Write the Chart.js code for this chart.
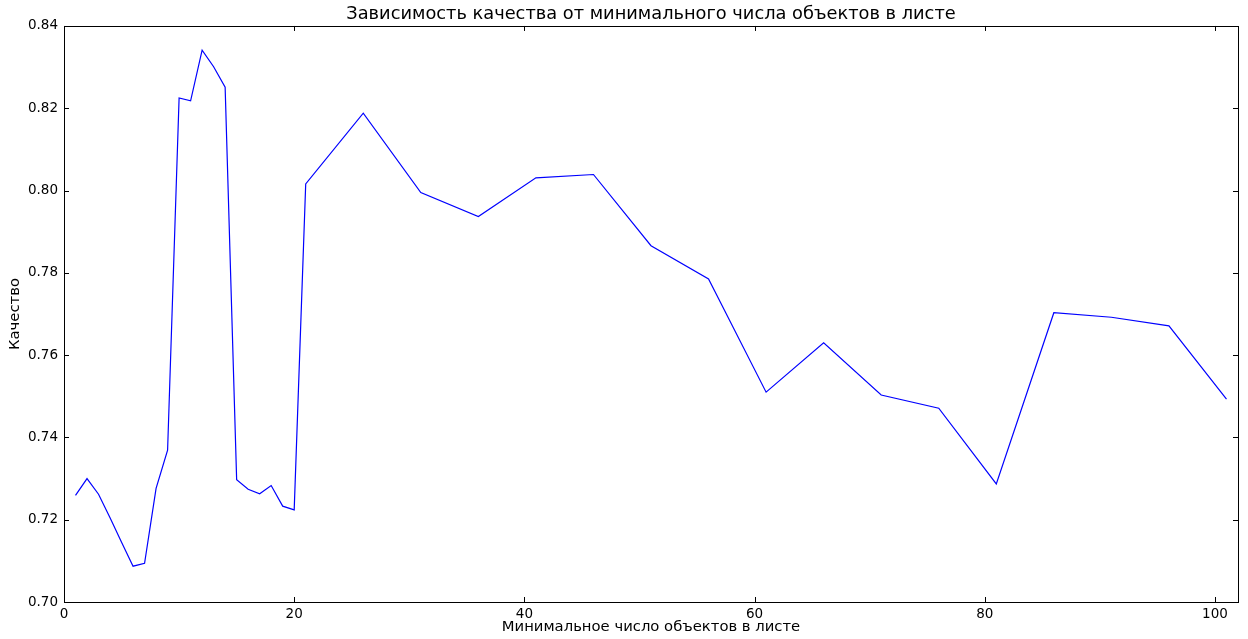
<!DOCTYPE html>
<html>
<head>
<meta charset="utf-8">
<script src="https://cdn.jsdelivr.net/npm/chart.js@4/dist/chart.umd.min.js"></script>
<style>
  html, body { margin: 0; padding: 0; background: #fff; }
</style>
</head>
<body>
<canvas id="chart" width="1248" height="639"></canvas>
<script>
// min samples per leaf vs. quality
const minLeafSizes = [1, 2, 3, 4, 5, 6, 7, 8, 9, 10, 11, 12, 13, 14, 15, 16, 17, 18, 19, 20,
  21, 26, 31, 36, 41, 46, 51, 56, 61, 66, 71, 76, 81, 86, 91, 96, 101];
const quality = [0.7259, 0.7300, 0.7262, 0.7205, 0.7145, 0.7087, 0.7094, 0.7276, 0.7369, 0.8225,
  0.8218, 0.8341, 0.8301, 0.8251, 0.7297, 0.7274, 0.7263, 0.7283, 0.7233, 0.7224,
  0.8016, 0.8188, 0.7995, 0.7937, 0.8031, 0.8039, 0.7866, 0.7785, 0.7510, 0.7630,
  0.7503, 0.7471, 0.7287, 0.7703, 0.7692, 0.7671, 0.7493];
const xTicks = [0, 20, 40, 60, 80, 100];
const yTicks = [0.70, 0.72, 0.74, 0.76, 0.78, 0.80, 0.82, 0.84];

const FONT = 'DejaVu Sans';

// matplotlib-style frame with inward ticks on all four sides
const frameTicks = {
  id: 'frameTicks',
  afterDatasetsDraw(chart) {
    const { ctx, chartArea: a, scales: { x, y } } = chart;
    const len = 5;
    ctx.save();
    ctx.strokeStyle = '#000';
    ctx.lineWidth = 1;
    ctx.beginPath();
    x.ticks.forEach(t => {
      const px = Math.round(x.getPixelForValue(t.value)) + 0.5;
      ctx.moveTo(px, a.bottom); ctx.lineTo(px, a.bottom - len);
      ctx.moveTo(px, a.top); ctx.lineTo(px, a.top + len);
    });
    y.ticks.forEach(t => {
      const py = Math.round(y.getPixelForValue(t.value)) + 0.5;
      ctx.moveTo(a.left, py); ctx.lineTo(a.left + len, py);
      ctx.moveTo(a.right, py); ctx.lineTo(a.right - len, py);
    });
    ctx.stroke();
    ctx.strokeRect(Math.round(a.left) + 0.5, Math.round(a.top) + 0.5,
      Math.round(a.right - a.left), Math.round(a.bottom - a.top));
    ctx.restore();
  }
};

new Chart(document.getElementById('chart'), {
  type: 'line',
  data: {
    datasets: [{
      data: minLeafSizes.map((v, i) => ({ x: v, y: quality[i] })),
      borderColor: '#0000ff',
      borderWidth: 1.2,
      pointRadius: 0,
      tension: 0,
      fill: false
    }]
  },
  options: {
    responsive: false,
    animation: false,
    devicePixelRatio: 1,
    layout: { padding: { top: 0, right: 10, bottom: 0, left: 0 } },
    plugins: {
      legend: { display: false },
      tooltip: { enabled: false },
      title: {
        display: true,
        fullSize: false,
        text: 'Зависимость качества от минимального числа объектов в листе',
        color: '#000',
        font: { family: FONT, size: 17.8, weight: 'normal', lineHeight: 1.2 },
        padding: { top: 4, bottom: 0.6 }
      }
    },
    scales: {
      x: {
        type: 'linear',
        min: 0,
        max: 102,
        afterFit: s => { s.height = 37; },
        afterBuildTicks: s => { s.ticks = xTicks.map(v => ({ value: v })); },
        grid: { display: false, drawTicks: false },
        border: { display: false },
        ticks: {
          color: '#000',
          padding: 4,
          font: { family: FONT, size: 13.5 },
          callback: v => String(v)
        },
        title: {
          display: true,
          text: 'Минимальное число объектов в листе',
          color: '#000',
          font: { family: FONT, size: 14.8, lineHeight: 1.2 },
          padding: { top: 0, bottom: 3 }
        }
      },
      y: {
        min: 0.70,
        max: 0.84,
        afterFit: s => { s.width = 64; },
        afterBuildTicks: s => { s.ticks = yTicks.map(v => ({ value: v })); },
        grid: { display: false, drawTicks: false },
        border: { display: false },
        ticks: {
          color: '#000',
          padding: 6,
          font: { family: FONT, size: 13.5 },
          callback: v => v.toFixed(2)
        },
        title: {
          display: true,
          text: 'Качество',
          color: '#000',
          font: { family: FONT, size: 14.8, lineHeight: 1.2 },
          padding: { top: 6, bottom: 0 }
        }
      }
    }
  },
  plugins: [frameTicks]
});
</script>
</body>
</html>
